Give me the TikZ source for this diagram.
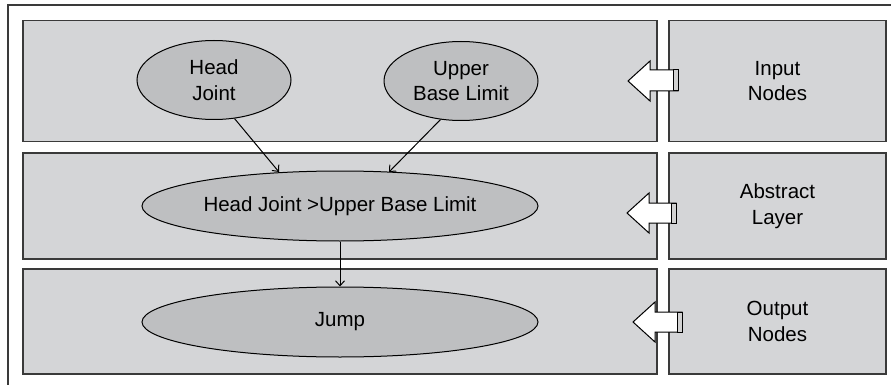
\documentclass[tikz,border=0pt]{standalone}
\usepackage{fontspec}
\setmainfont{Liberation Sans}
\usepackage{tikz}
\usetikzlibrary{shapes.geometric,arrows.meta}
\definecolor{panelbg}{HTML}{D4D5D7}
\definecolor{ellbg}{HTML}{BEBFC1}
\definecolor{edge}{HTML}{3A3A3A}
\tikzset{panel/.style={draw=edge,line width=1.2pt,fill=panelbg,inner sep=0pt},
  ell/.style={ellipse,draw=black,line width=1pt,fill=ellbg,inner sep=0pt,align=center,font=\fontsize{20.5}{25.5}\selectfont},
  lbl/.style={align=center,font=\fontsize{20.5}{25.5}\selectfont},
  blk/.style={draw=black,line width=1pt,fill=white,line join=miter},
  con/.style={-{Straight Barb[length=5pt,width=9pt]},line width=1pt,black}}

\begin{document}
\begin{tikzpicture}[x=1pt,y=-1pt]
\useasboundingbox[fill=white] (0,0) rectangle (891,385);
\draw[edge,line width=1.2pt] (891,5)--(8,5)--(8,385);
% layers
\node[panel,minimum width=634pt,minimum height=121pt] (inp) at (340,81) {};
\node[panel,minimum width=634pt,minimum height=106pt] (abs) at (340,206) {};
\node[panel,minimum width=634pt,minimum height=105pt] (out) at (340,321.5) {};
\node[panel,minimum width=217pt,minimum height=121pt] (inpl) at (777.5,81) {};
\node[panel,minimum width=217pt,minimum height=106pt] (absl) at (777.5,206) {};
\node[panel,minimum width=217pt,minimum height=105pt] (outl) at (777.5,321.5) {};
\node[lbl] at (inpl) {Input\\Nodes};
\node[lbl] at (absl) {Abstract\\Layer};
\node[lbl] at (outl) {Output\\Nodes};
% nodes
\node[ell,minimum width=154pt,minimum height=79pt] (hj) at (214,80) {Head\\Joint};
\node[ell,minimum width=154pt,minimum height=79pt] (ub) at (461,81) {Upper\\Base Limit};
\node[ell,minimum width=396pt,minimum height=70pt] (cmp) at (340,206) {Head Joint >Upper Base Limit};
\node[ell,minimum width=396pt,minimum height=70pt] (jmp) at (340,322) {Jump};
\coordinate (hjin) at (279,172);
\coordinate (ubin) at (389,172);
\draw[con] (hj.-62) -- (hjin);
\draw[con] (ub.-118) -- (ubin);
\draw[con] (cmp.south) -- (jmp.north);
% block arrows
\draw[blk] (628,81)--(650,61)--(650,70)--(678,70)--(678,91)--(650,91)--(650,101)--cycle;
\draw[black,line width=1pt,fill=gray!35] (673,70) rectangle (678,91);
\draw[blk] (627,213)--(649,193)--(649,203)--(676,203)--(676,223)--(649,223)--(649,233)--cycle;
\draw[black,line width=1pt,fill=gray!35] (671,203) rectangle (676,223);
\draw[blk] (633,322)--(655,302)--(655,312)--(682,312)--(682,332)--(655,332)--(655,342)--cycle;
\draw[black,line width=1pt,fill=gray!35] (677,312) rectangle (682,332);
\end{tikzpicture}
\end{document}
